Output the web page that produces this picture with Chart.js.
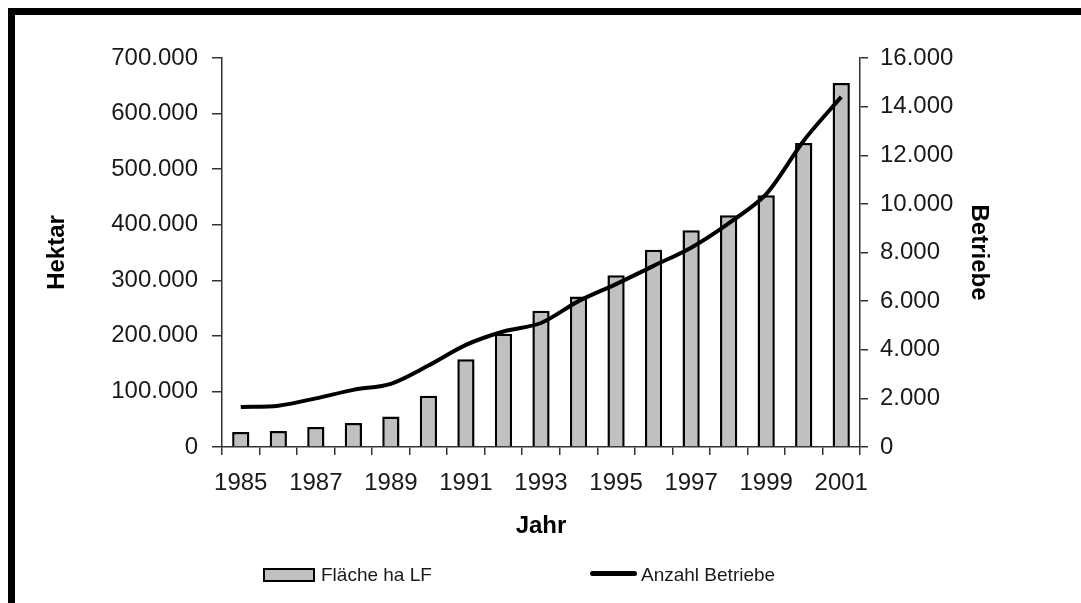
<!DOCTYPE html>
<html>
<head>
<meta charset="utf-8">
<title>Fläche und Betriebe</title>
<script src="https://cdn.jsdelivr.net/npm/chart.js@4/dist/chart.umd.min.js"></script>
<style>
  html, body { margin: 0; padding: 0; background: #fff; }
  #wrap { position: relative; width: 1081px; height: 603px; overflow: hidden; background: #fff; }
  #chart { position: absolute; left: 0; top: 0; }
  .frame {
    position: absolute; left: 8px; top: 8px; width: 1200px; height: 800px;
    border-top: 7px solid #000; border-left: 7px solid #000; pointer-events: none;
  }
  .legend-item { position: absolute; font: 19px "Liberation Sans", Arial, sans-serif; color: #1a1a1a; line-height: 20px; }
  .box { position: absolute; box-sizing: border-box; background: #c0c0c0; border: 2px solid #000; }
  .ln { position: absolute; background: #000; border-radius: 3px; }
</style>
</head>
<body>
<div id="wrap">
  <canvas id="chart" width="1081" height="603"></canvas>
  <div class="frame"></div>
  <!-- Legende -->
  <div class="box" style="left:263px; top:568px; width:52px; height:14px;"></div>
  <div class="legend-item" style="left:321px; top:565px;">Fläche ha LF</div>
  <div class="ln" style="left:590px; top:571px; width:47px; height:5px;"></div>
  <div class="legend-item" style="left:641px; top:565px;">Anzahl Betriebe</div>
</div>
<script>
// Daten
const years = ["1985", "1986", "1987", "1988", "1989", "1990", "1991", "1992", "1993",
  "1994", "1995", "1996", "1997", "1998", "1999", "2000", "2001"];

// Fläche ha LF (linke Achse)
const flaeche = [27000, 29000, 36000, 43000, 55000, 92000, 158000, 204000, 245000,
  271000, 309000, 355000, 390000, 417000, 453000, 547000, 655000];

// Anzahl Betriebe (rechte Achse)
const betriebe = [1650, 1700, 2000, 2350, 2600, 3350, 4200, 4750, 5100,
  6000, 6700, 7450, 8200, 9200, 10400, 12600, 14400];

const leftMax = 700000, leftStep = 100000;
const rightMax = 16000, rightStep = 2000;

const tickFont = { family: "'Liberation Sans', Arial, sans-serif", size: 24 };
const titleFont = { family: "'Liberation Sans', Arial, sans-serif", size: 24, weight: "bold" };
const tickColor = "#1a1a1a";
const axisColor = "#333";

// Tausenderpunkt wie im Original
function fmt(v) {
  return String(v).replace(/\B(?=(\d{3})+(?!\d))/g, ".");
}

const ctx = document.getElementById("chart");

new Chart(ctx, {
  data: {
    labels: years,
    datasets: [
      {
        type: "line",
        label: "Anzahl Betriebe",
        data: betriebe,
        yAxisID: "y1",
        borderColor: "#000",
        borderWidth: 4,
        pointRadius: 0,
        tension: 0.3,
        fill: false,
        order: 0
      },
      {
        type: "bar",
        label: "Fläche ha LF",
        data: flaeche,
        yAxisID: "y",
        backgroundColor: "#c0c0c0",
        borderColor: "#000",
        borderWidth: 2.5,
        barPercentage: 0.46,
        categoryPercentage: 1,
        order: 1
      }
    ]
  },
  options: {
    responsive: false,
    animation: false,
    devicePixelRatio: 1,
    layout: { padding: { top: 58, bottom: 56, left: 0, right: 0 } },
    plugins: {
      legend: { display: false },
      tooltip: { enabled: false }
    },
    scales: {
      x: {
        offset: true,
        afterFit: s => { s.height = 100; },
        grid: { offset: true, drawOnChartArea: false, tickLength: 8, color: axisColor, lineWidth: 1.5 },
        border: { color: axisColor, width: 1.5 },
        ticks: {
          autoSkip: false,
          maxRotation: 0,
          padding: 14,
          font: tickFont,
          color: tickColor,
          callback: (v, i) => (i % 2 === 0 ? years[i] : "")
        },
        title: { display: true, text: "Jahr", font: titleFont, color: "#000", padding: { top: 0, bottom: 6 } }
      },
      y: {
        position: "left",
        min: 0,
        max: leftMax,
        afterFit: s => { s.width = 222; },
        grid: { drawOnChartArea: false, tickLength: 10, color: axisColor, lineWidth: 1.5 },
        border: { color: axisColor, width: 1.5 },
        ticks: { stepSize: leftStep, padding: 14, font: tickFont, color: tickColor, callback: v => fmt(v) },
        title: { display: true, text: "Hektar", font: titleFont, color: "#000", padding: { top: 43, bottom: 0 } }
      },
      y1: {
        position: "right",
        min: 0,
        max: rightMax,
        afterFit: s => { s.width = 221; },
        grid: { drawOnChartArea: false, tickLength: 8, color: axisColor, lineWidth: 1.5 },
        border: { color: axisColor, width: 1.5 },
        ticks: { stepSize: rightStep, padding: 12, font: tickFont, color: tickColor, callback: v => fmt(v) },
        title: { display: true, text: "Betriebe", font: titleFont, color: "#000", padding: { top: 88, bottom: 0 } }
      }
    }
  }
});
</script>
</body>
</html>
